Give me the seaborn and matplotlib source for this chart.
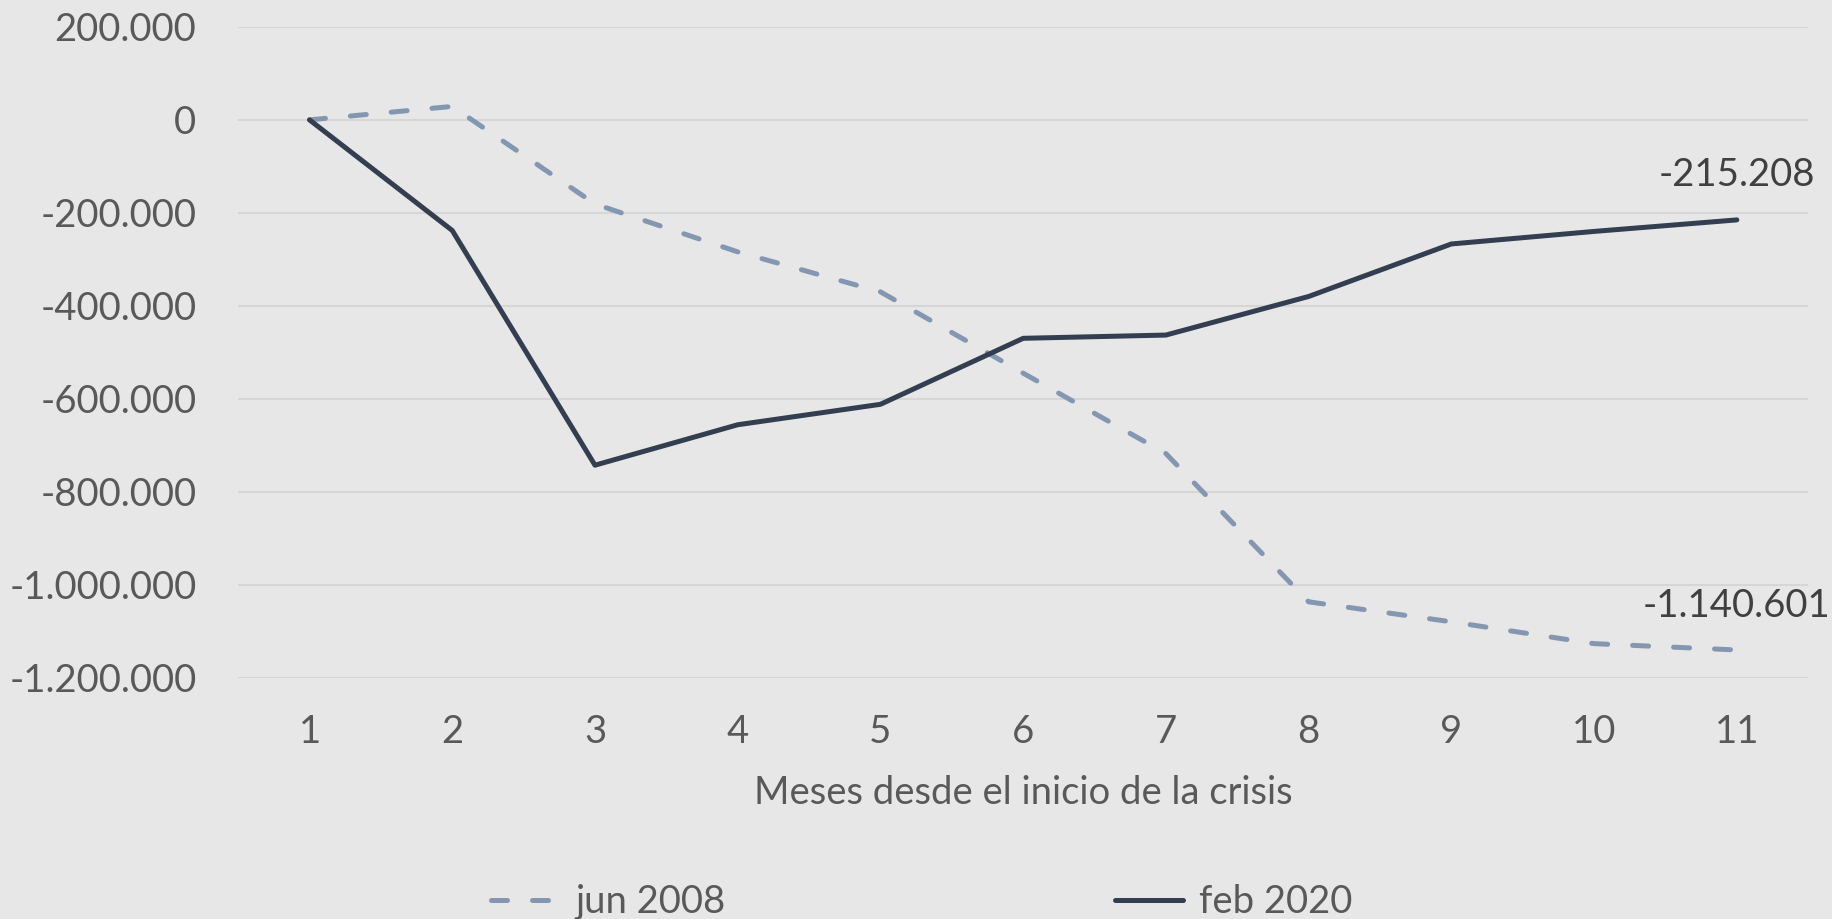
import matplotlib
matplotlib.use("Agg")
import matplotlib.pyplot as plt
import matplotlib.ticker as mticker
import seaborn as sns
import pandas as pd

meses = [1, 2, 3, 4, 5, 6, 7, 8, 9, 10, 11]
jun_2008 = [0, 29000, -181000, -284000, -370000, -545000, -718000, -1037000, -1080000, -1127000, -1140601]
feb_2020 = [0, -238000, -743000, -656000, -612000, -470000, -463000, -380000, -267000, -240000, -215208]
series_names = ["jun 2008", "feb 2020"]
yticks = [200000, 0, -200000, -400000, -600000, -800000, -1000000, -1200000]
xlabel = "Meses desde el inicio de la crisis"

BG = "#e7e7e7"
C_JUN = "#8497b0"
C_FEB = "#333f50"
FS = 27.5

sns.set_theme(style="white", rc={"axes.facecolor": BG, "figure.facecolor": BG})
plt.rcParams["font.family"] = ["Lato", "DejaVu Sans"]

df = pd.DataFrame({
    "mes": meses * 2,
    "valor": jun_2008 + feb_2020,
    "serie": [series_names[0]] * len(meses) + [series_names[1]] * len(meses),
})

fig = plt.figure(figsize=(18.32, 9.19), dpi=100)
ax = fig.add_axes([0.130, 0.2627, 0.857, 0.708])

sns.lineplot(data=df, x="mes", y="valor", hue="serie", style="serie",
             palette={series_names[0]: C_JUN, series_names[1]: C_FEB},
             dashes={series_names[0]: (3.2, 5.0), series_names[1]: ""},
             linewidth=3.6, ax=ax, legend=False, sort=False)

for ln in ax.get_lines():
    ln.set_dash_capstyle("round")
    ln.set_solid_capstyle("round")
    ln.set_solid_joinstyle("round")
    ln.set_dash_joinstyle("round")

ax.set_xlim(0.5, 11.5)
ax.set_ylim(-1200000, 200000)
ax.set_xticks(meses)
ax.set_yticks(yticks)
ax.yaxis.set_major_formatter(mticker.FuncFormatter(lambda v, p: f"{int(round(v)):,}".replace(",", ".")))
ax.grid(axis="y", color="#d6d6d6", linewidth=1.5)
ax.grid(axis="x", visible=False)
ax.set_axisbelow(True)
for s in ax.spines.values():
    s.set_visible(False)
ax.tick_params(axis="both", length=0, labelsize=FS, labelcolor="#595959")
ax.tick_params(axis="y", pad=30)
ax.tick_params(axis="x", pad=26)
ax.set_xlabel(xlabel, fontsize=FS, color="#595959", labelpad=18)
ax.set_ylabel("")

# data labels at last point
ax.annotate(f"{jun_2008[-1]:,}".replace(",", "."), xy=(meses[-1], jun_2008[-1]),
            xytext=(0, 32), textcoords="offset points", ha="center", va="center",
            fontsize=FS, color="#404040")
ax.annotate(f"{feb_2020[-1]:,}".replace(",", "."), xy=(meses[-1], feb_2020[-1]),
            xytext=(0, 32), textcoords="offset points", ha="center", va="center",
            fontsize=FS, color="#404040")

handles = [ax.get_lines()[0], ax.get_lines()[1]]
leg = fig.legend(handles, series_names, loc="center", bbox_to_anchor=(0.503, 0.018),
                 ncol=2, frameon=False, fontsize=FS, handlelength=1.8,
                 handletextpad=0.4, columnspacing=10.2, labelcolor="#595959")

fig.savefig("out.png", dpi=100, facecolor=BG)
